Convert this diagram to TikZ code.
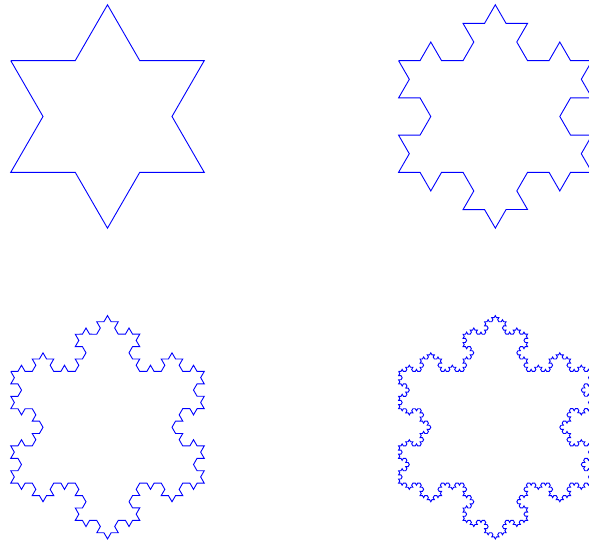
\documentclass[tikz,border=0pt]{standalone}
\usetikzlibrary{decorations.fractals}
\begin{document}
\begin{tikzpicture}[x=1pt,y=1pt,decoration=Koch snowflake,
  flake/.style={draw=blue, line width=0.9pt, line join=miter}]
\clip (0,0) rectangle (589,543);
% level 1 (top left)
\draw[flake] decorate{ (10.75,482.36) -- (204.25,482.36) -- (107.5,314.8) -- (10.75,482.36) };
% level 2 (top right)
\draw[flake] decorate{ decorate{ (398.55,482.36) -- (592.05,482.36) -- (495.3,314.8) -- (398.55,482.36) }};
% level 3 (bottom left)
\draw[flake] decorate{ decorate{ decorate{ (10.75,171.56) -- (204.25,171.56) -- (107.5,4.0) -- (10.75,171.56) }}};
% level 4 (bottom right)
\draw[flake] decorate{ decorate{ decorate{ decorate{ (398.55,171.56) -- (592.05,171.56) -- (495.3,4.0) -- (398.55,171.56) }}}};
\end{tikzpicture}
\end{document}
